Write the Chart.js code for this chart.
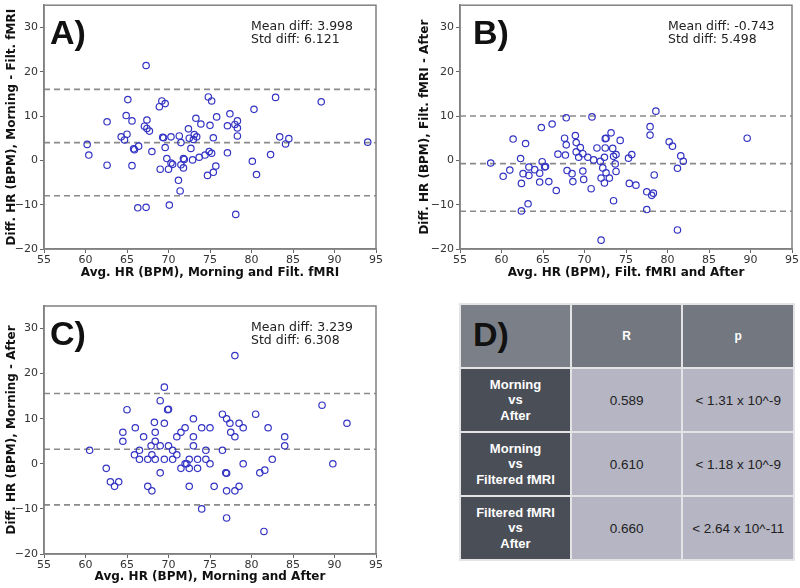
<!DOCTYPE html>
<html>
<head>
<meta charset="utf-8">
<script src="https://cdn.jsdelivr.net/npm/chart.js@4.4.1/dist/chart.umd.min.js"></script>
<style>
  body {
    margin: 0;
    background: #ffffff;
    width: 800px;
    height: 588px;
    position: relative;
    overflow: hidden;
  }
  .panel {
    position: absolute;
  }
  #tableD {
    position: absolute;
    left: 459px;
    top: 303px;
    width: 336px;
    height: 254px;
    border-collapse: separate;
    border-spacing: 2px;
    background: #e4e4e6;
    font-family: "Liberation Sans", Arial, sans-serif;
  }
  #tableD td {
    text-align: center;
    padding: 0;
  }
  #tableD .corner {
    background: #7b8088;
    text-align: left;
    padding-left: 12px;
    padding-bottom: 4px;
    font-size: 34px;
    font-weight: bold;
    color: #111;
  }
  #tableD .head {
    background: #737780;
    color: #ffffff;
    font-weight: bold;
    font-size: 12px;
  }
  #tableD .rowhead {
    background: #4a4e56;
    color: #ffffff;
    font-weight: bold;
    font-size: 13px;
    line-height: 15.5px;
  }
  #tableD .cell {
    background: #b5b5c3;
    color: #222;
    font-size: 13.5px;
  }
</style>
</head>
<body>

<div class="panel" style="left:0;top:0;width:400px;height:290px"><canvas id="chartA"></canvas></div>
<div class="panel" style="left:400px;top:0;width:400px;height:290px"><canvas id="chartB"></canvas></div>
<div class="panel" style="left:0;top:290px;width:400px;height:298px"><canvas id="chartC"></canvas></div>

<table id="tableD">
  <colgroup>
    <col style="width:111px">
    <col style="width:112px">
    <col style="width:112px">
  </colgroup>
  <tbody id="tableBody"></tbody>
</table>

<script>
// axis ranges shared by the three panels
const xRange = [55, 95];
const yRange = [-20, 35];

// A) Morning vs filtered fMRI
const avgA = [67.3, 65.1, 69.2, 69.6, 68.9, 74.8, 75.2, 82.9, 88.4, 80.3, 64.9, 62.6, 65.6, 67.4, 73.3, 75.8, 77.4, 78.3, 73.9, 75.0, 77.1, 78.0, 78.3, 67.1, 67.4, 67.7, 72.4, 64.3, 65.0, 64.7, 69.3, 69.4, 70.3, 71.3, 72.5, 73.1, 73.4, 73.0, 75.4, 78.3, 83.4, 84.5, 84.1, 94.0, 60.2, 71.5, 65.8, 65.9, 66.4, 69.6, 72.7, 68.0, 60.4, 62.6, 65.6, 69.0, 69.8, 70.0, 70.3, 70.5, 71.5, 71.8, 71.9, 71.8, 72.9, 73.7, 74.4, 74.9, 75.2, 74.7, 75.4, 75.7, 77.1, 80.1, 80.6, 82.3, 71.2, 71.4, 66.3, 67.3, 70.1, 78.1];
const diffA = [21.4, 13.7, 13.4, 12.8, 12.1, 14.3, 13.4, 14.2, 13.2, 11.5, 10.1, 8.7, 8.9, 9.1, 9.5, 9.8, 10.5, 8.9, 8.2, 7.9, 7.8, 8.1, 7.3, 7.7, 7.2, 6.6, 7.1, 5.3, 5.9, 4.6, 5.2, 5.1, 5.3, 5.5, 5.0, 5.8, 5.3, 4.7, 5.1, 5.5, 5.3, 4.9, 3.7, 4.1, 3.6, 4.0, 2.6, 2.4, 3.2, 2.9, 2.7, 2.0, 1.2, -1.1, -1.2, -2.0, 0.4, -2.0, -0.6, -0.9, -1.0, 0.4, 0.2, -1.7, 0.1, 0.7, 1.2, 2.0, 1.6, -3.4, -2.7, -1.3, 1.7, -0.2, -3.2, 1.3, -4.5, -6.9, -10.7, -10.6, -10.1, -12.2];
const linesA = [16.0, 3.998, -8.0];
const notesA = ["Mean diff: 3.998", "Std diff: 6.121"];

// B) Filtered fMRI vs after
const avgB = [78.6, 67.8, 70.9, 64.8, 66.1, 77.9, 77.9, 73.2, 61.4, 62.9, 67.6, 68.9, 69.0, 67.8, 69.5, 71.5, 72.5, 72.6, 72.5, 73.4, 74.3, 80.2, 80.6, 89.6, 58.7, 60.2, 61.0, 62.3, 62.4, 62.6, 63.3, 63.3, 64.0, 64.6, 64.9, 65.2, 65.3, 64.6, 65.7, 63.2, 62.4, 66.6, 66.8, 67.7, 67.9, 68.5, 68.6, 69.0, 69.3, 69.8, 69.8, 69.9, 70.4, 70.8, 71.1, 71.9, 72.0, 72.2, 72.4, 72.4, 72.6, 73.0, 73.5, 73.7, 73.8, 73.8, 73.5, 72.0, 75.3, 75.7, 75.4, 76.2, 77.5, 78.1, 78.3, 78.4, 77.5, 81.2, 81.6, 81.9, 81.2];
const diffB = [11.1, 9.6, 9.8, 7.4, 8.2, 7.6, 5.7, 6.2, 4.8, 3.8, 5.0, 5.6, 4.0, 3.5, 2.9, 2.8, 4.9, 5.0, 2.8, 2.7, 4.5, 4.2, 3.2, 5.0, -0.6, -3.6, -2.2, 0.4, -5.2, -3.0, -1.5, -3.4, -2.1, -2.9, -0.3, -1.5, -1.4, -4.9, -4.8, -9.8, -11.4, -6.8, 1.4, 1.2, -2.3, -3.0, -4.8, 1.9, 0.7, 1.5, -2.4, -4.3, 0.7, -6.4, 0.1, -0.2, -4.0, -1.7, 0.7, -5.1, -2.8, -4.0, 0.9, -0.8, 1.3, -2.5, -9.1, -18.0, 0.5, 1.3, -5.2, -5.6, -7.1, -7.9, -7.4, -3.3, -11.1, -1.8, 1.0, -0.2, -15.7];
const linesB = [10.0, -0.743, -11.5];
const notesB = ["Mean diff: -0.743", "Std diff: 5.498"];

// C) Morning vs after
const avgC = [78.0, 69.5, 69.0, 69.9, 70.0, 65.0, 88.5, 76.5, 80.5, 77.0, 77.4, 78.5, 79.0, 91.5, 73.0, 68.3, 69.5, 66.0, 64.5, 68.4, 72.0, 71.5, 74.0, 75.0, 82.0, 67.0, 71.0, 73.0, 77.5, 78.0, 84.0, 64.5, 68.4, 60.5, 65.9, 66.5, 66.5, 67.5, 67.9, 68.0, 68.4, 69.0, 69.5, 69.0, 70.0, 70.5, 70.5, 71.0, 71.5, 72.0, 72.2, 72.5, 72.5, 73.0, 73.5, 73.5, 74.5, 74.5, 75.0, 76.5, 79.0, 82.5, 84.0, 89.8, 62.5, 63.0, 63.5, 64.0, 67.5, 68.0, 72.5, 75.5, 76.9, 77.0, 77.0, 78.0, 78.5, 81.0, 81.6, 74.0, 77.0, 81.5];
const diffC = [24, 17, 14, 12, 12.1, 12, 13, 11, 11, 10, 9, 9, 8, 9, 10, 9.2, 9, 8, 7, 7, 8, 7, 8, 8, 8, 6, 6, 6, 7, 6, 6, 5, 5, 3, 2, 3, 1, 1, 4, 2, 1, 4, 1, -2, 4, 3, 1, 2, -1, 0, 0, 1, -1, 4, 1, -1, 3, 1, 0, 3, 0, 1, 4, 0, -1, -4, -5, -4, -5, -6, -5, -5, -2, -2.1, -6, -6, -5, -2, -1.4, -10, -12, -15];
const linesC = [15.6, 3.239, -9.1];
const notesC = ["Mean diff: 3.239", "Std diff: 6.308"];

// D) correlation table
const pairLabels = [
  ["Morning", "vs", "After"],
  ["Morning", "vs", "Filtered fMRI"],
  ["Filtered fMRI", "vs", "After"]
];
const rValues = ["0.589", "0.610", "0.660"];
const pValues = ["< 1.31 x 10^-9", "< 1.18 x 10^-9", "< 2.64 x 10^-11"];


const panelText = {
  id: "panelText",
  afterDraw(chart, args, opts) {
    const ctx = chart.ctx;
    const area = chart.chartArea;
    ctx.save();
    ctx.strokeStyle = "#808080";
    ctx.lineWidth = 1.5;
    ctx.strokeRect(area.left, area.top, area.width, area.height);

    ctx.fillStyle = "#111111";
    ctx.font = "bold 34px 'Liberation Sans'";
    ctx.textBaseline = "alphabetic";
    ctx.fillText(opts.letter, area.left + opts.letterX, area.top + 39);

    ctx.fillStyle = "#222222";
    ctx.font = "12.5px 'DejaVu Sans'";
    ctx.fillText(opts.notes[0], area.left + opts.noteX, area.top + 25);
    ctx.fillText(opts.notes[1], area.left + opts.noteX, area.top + 38);
    ctx.restore();
  }
};

function pointsOf(xs, ys) {
  return xs.map((x, i) => ({ x: x, y: ys[i] }));
}

function flatLine(y) {
  return [
    { x: xRange[0], y: y },
    { x: xRange[1], y: y }
  ];
}

// matplotlib style minus sign
function minusTick(value) {
  return String(value).replace("-", "\u2212");
}

function makePanel(id, xs, ys, lines, notes, cfg) {

  const dashed = lines.map(y => ({
    type: "line",
    data: flatLine(y),
    showLine: true,
    borderColor: "#8a8a8a",
    borderWidth: 1.6,
    borderDash: [6, 4],
    pointRadius: 0,
    fill: false
  }));

  new Chart(document.getElementById(id), {

    type: "scatter",

    data: {
      datasets: [{
        data: pointsOf(xs, ys),
        pointStyle: "circle",
        pointRadius: 3.2,
        borderWidth: 1.2,
        borderColor: "#3434c4",
        backgroundColor: "rgba(0,0,0,0)"
      }].concat(dashed)
    },

    options: {

      responsive: true,
      maintainAspectRatio: false,
      animation: false,

      layout: {
        padding: {
          top: cfg.padTop,
          right: cfg.padRight,
          left: 0,
          bottom: 0
        }
      },

      plugins: {
        legend: { display: false },
        tooltip: { enabled: false },
        panelText: {
          letter: cfg.letter,
          letterX: cfg.letterX,
          noteX: cfg.noteX,
          notes: notes
        }
      },

      scales: {

        x: {
          type: "linear",
          min: xRange[0],
          max: xRange[1],
          afterFit(scale) {
            scale.height = cfg.xHeight;
            scale.paddingLeft = 0;
            scale.paddingRight = 0;
          },
          ticks: {
            stepSize: 5,
            padding: 1,
            color: "#333333",
            font: { family: "DejaVu Sans", size: 11 }
          },
          grid: {
            drawOnChartArea: false,
            drawTicks: true,
            tickLength: 4,
            color: "#666666"
          },
          border: { color: "#808080", width: 1.5 },
          title: {
            display: true,
            text: cfg.xTitle,
            color: "#111111",
            padding: { top: 0, bottom: cfg.xTitlePad },
            font: { family: "DejaVu Sans", size: 12, weight: "bold" }
          }
        },

        y: {
          type: "linear",
          min: yRange[0],
          max: yRange[1],
          afterFit(scale) {
            scale.width = cfg.yWidth;
            scale.paddingTop = 0;
            scale.paddingBottom = 0;
          },
          afterBuildTicks(scale) {
            scale.ticks = scale.ticks.filter(t => t.value % 10 === 0);
          },
          ticks: {
            stepSize: 10,
            padding: 2,
            color: "#333333",
            font: { family: "DejaVu Sans", size: 11 },
            callback: minusTick
          },
          grid: {
            drawOnChartArea: false,
            drawTicks: true,
            tickLength: 4,
            color: "#666666"
          },
          border: { color: "#808080", width: 1.5 },
          title: {
            display: true,
            text: cfg.yTitle,
            color: "#111111",
            padding: { top: cfg.yTitlePad, bottom: 0 },
            font: { family: "DejaVu Sans", size: 12, weight: "bold" }
          }
        }

      }

    },

    plugins: [panelText]

  });
}

makePanel("chartA", avgA, diffA, linesA, notesA, {
  letter: "A)",
  letterX: 6,
  noteX: 207,
  padTop: 3,
  padRight: 24,
  xHeight: 41,
  yWidth: 44,
  xTitlePad: 10,
  yTitlePad: 5,
  xTitle: "Avg. HR (BPM), Morning and Filt. fMRI",
  yTitle: "Diff. HR (BPM), Morning - Filt. fMRI"
});

makePanel("chartB", avgB, diffB, linesB, notesB, {
  letter: "B)",
  letterX: 13,
  noteX: 208,
  padTop: 3,
  padRight: 8,
  xHeight: 41,
  yWidth: 60,
  xTitlePad: 10,
  yTitlePad: 18,
  xTitle: "Avg. HR (BPM), Filt. fMRI and After",
  yTitle: "Diff. HR (BPM), Filt. fMRI - After"
});

makePanel("chartC", avgC, diffC, linesC, notesC, {
  letter: "C)",
  letterX: 6,
  noteX: 207,
  padTop: 16,
  padRight: 24,
  xHeight: 34,
  yWidth: 44,
  xTitlePad: 4,
  yTitlePad: 5,
  xTitle: "Avg. HR (BPM), Morning and After",
  yTitle: "Diff. HR (BPM), Morning - After"
});

// table D
const body = document.getElementById("tableBody");
let html = '<tr style="height:62px"><td class="corner">D)</td><td class="head">R</td><td class="head">p</td></tr>';
pairLabels.forEach((lab, i) => {
  html += '<tr style="height:62px">' +
    '<td class="rowhead">' + lab.join("<br>") + '</td>' +
    '<td class="cell">' + rValues[i] + '</td>' +
    '<td class="cell">' + pValues[i] + '</td>' +
    '</tr>';
});
body.innerHTML = html;
</script>
</body>
</html>
